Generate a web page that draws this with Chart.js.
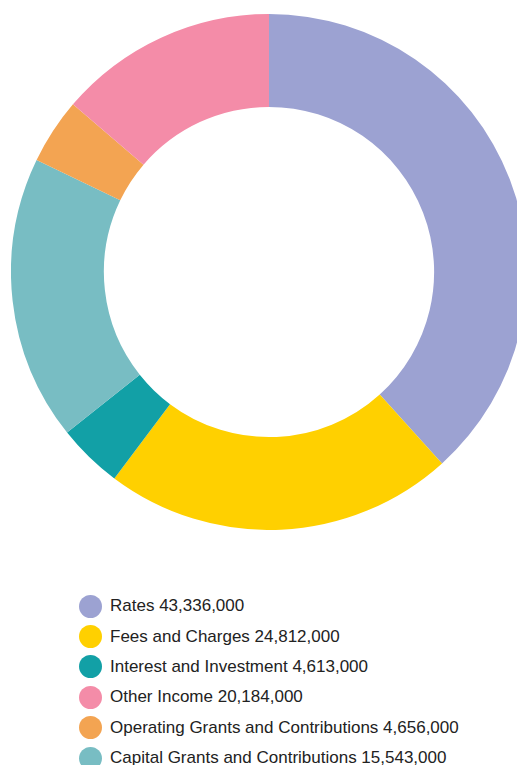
<!DOCTYPE html>
<html>
<head>
<meta charset="utf-8">
<script src="https://cdn.jsdelivr.net/npm/chart.js@4/dist/chart.umd.min.js"></script>
<style>
  html, body {
    margin: 0;
    padding: 0;
    background: #fff;
    overflow: hidden;
    width: 517px;
    height: 765px;
  }
  .chart-wrap {
    position: absolute;
    left: 11px;
    top: 13.5px;
    width: 516px;
    height: 516px;
  }
  /* 범례는 HTML로 별도 표시 */
  .legend {
    position: absolute;
    left: 79px;
    top: 591px;
    margin: 0;
    padding: 0;
    list-style: none;
    font-family: "Liberation Sans", Arial, Helvetica, sans-serif;
    font-size: 17px;
    color: #222;
  }
  .legend li {
    display: flex;
    align-items: center;
    height: 30.4px;
    white-space: nowrap;
  }
  .legend .dot {
    width: 23px;
    height: 23px;
    border-radius: 50%;
    margin-right: 8px;
    flex: none;
  }
</style>
</head>
<body>
<div class="chart-wrap"><canvas id="incomeChart"></canvas></div>
<ul class="legend" id="legend"></ul>
<script>
// 수입 항목 (차트 순서)
const categories = [
  'Rates',
  'Fees and Charges',
  'Interest and Investment',
  'Other Income',
  'Operating Grants and Contributions',
  'Capital Grants and Contributions'
];
const amounts = [43336000, 24812000, 4613000, 20184000, 4656000, 15543000];

// 도넛 조각 색상
const sliceColors = ['#9ca2d2', '#ffd000', '#12a0a6', '#78bdc3', '#f3a452', '#f48ca8'];
// 범례 점 색상
const legendColors = ['#9ca2d2', '#ffd000', '#12a0a6', '#f48ca8', '#f3a452', '#78bdc3'];

const ctx = document.getElementById('incomeChart');
new Chart(ctx, {
  type: 'doughnut',
  data: {
    labels: categories,
    datasets: [{
      data: amounts,
      backgroundColor: sliceColors,
      borderWidth: 0
    }]
  },
  options: {
    responsive: true,
    maintainAspectRatio: false,
    animation: false,
    cutout: '64%',
    layout: { padding: 0 },
    plugins: {
      legend: { display: false },
      tooltip: { enabled: false }
    }
  }
});

const legendEl = document.getElementById('legend');
categories.forEach((name, i) => {
  const li = document.createElement('li');
  const dot = document.createElement('span');
  dot.className = 'dot';
  dot.style.background = legendColors[i];
  li.appendChild(dot);
  li.appendChild(document.createTextNode(name + ' ' + amounts[i].toLocaleString('en-US')));
  legendEl.appendChild(li);
});
</script>
</body>
</html>
